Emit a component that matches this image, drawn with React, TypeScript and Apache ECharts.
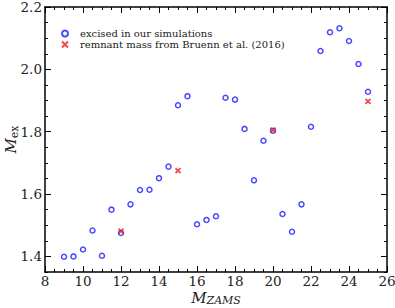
import React, { useEffect, useRef } from "react";
import * as echarts from "echarts";

// Data
const massBlue = [9, 9.5, 10, 10.5, 11, 11.5, 12, 12.5, 13, 13.5, 14, 14.5, 15, 15.5, 16, 16.5, 17, 17.5, 18, 18.5, 19, 19.5, 20, 20.5, 21, 21.5, 22, 22.5, 23, 23.5, 24, 24.5, 25];
const mexBlue = [1.399, 1.4, 1.422, 1.483, 1.402, 1.55, 1.475, 1.567, 1.613, 1.614, 1.651, 1.688, 1.885, 1.914, 1.503, 1.517, 1.529, 1.909, 1.903, 1.809, 1.644, 1.771, 1.803, 1.536, 1.479, 1.567, 1.816, 2.059, 2.119, 2.132, 2.091, 2.017, 1.928];
const massRed = [12, 15, 20, 25];
const mexRed = [1.481, 1.675, 1.805, 1.897];
const seriesNames = ["excised in our simulations", "remnant mass from Bruenn et al. (2016)"];

const xMin = 8;
const xMax = 26;
const xStep = 2;
const yMin = 1.35;
const yMax = 2.2;
const yMajorTicks = [1.4, 1.6, 1.8, 2.0, 2.2];
const yMinorTicks = [1.35, 1.4, 1.45, 1.5, 1.55, 1.6, 1.65, 1.7, 1.75, 1.8, 1.85, 1.9, 1.95, 2.0, 2.05, 2.1, 2.15, 2.2];

const FONT = "'DejaVu Serif', 'Liberation Serif', serif";
const BLUE = "#1a1aff";
const RED = "#ee1c1c";
const TXT = "#222";

export default function App() {
  const ref = useRef<HTMLDivElement>(null);
  useEffect(() => {
    if (!ref.current) return;
    const chart = echarts.init(ref.current, null, { renderer: "svg" });
    const axisLine = { show: true, lineStyle: { color: "#000", width: 1.5 } };
    const xCommon = (pos: "bottom" | "top", labels: boolean) => ({
      type: "value" as const,
      position: pos,
      min: xMin,
      max: xMax,
      interval: xStep,
      axisLine,
      axisTick: { show: true, inside: true, length: 6, lineStyle: { color: "#000", width: 1 } },
      minorTick: { show: true, splitNumber: 4, length: 3, lineStyle: { color: "#000", width: 1 } },
      splitLine: { show: false },
      minorSplitLine: { show: false },
      axisLabel: { show: labels, margin: 3, fontSize: 13.5, lineHeight: 12, color: TXT, fontFamily: FONT },
    });
    const yAxisDef = (pos: "left" | "right", ticks: number[], len: number, labels: boolean, line: boolean) => ({
      type: "value" as const,
      position: pos,
      min: yMin,
      max: yMax,
      axisLine: line ? axisLine : { show: false },
      axisTick: { show: true, inside: true, length: len, customValues: ticks, lineStyle: { color: "#000", width: 1 } },
      splitLine: { show: false },
      axisLabel: labels
        ? { show: true, customValues: yMajorTicks, margin: 3, fontSize: 13.5, lineHeight: 12, color: TXT, fontFamily: FONT, formatter: (v: number) => v.toFixed(1) }
        : { show: false },
    });
    chart.setOption({
      animation: false,
      backgroundColor: "#fff",
      grid: { left: 45, top: 7, right: 8, bottom: 36, containLabel: false, outerBoundsMode: "none" },
      legend: {
        left: 61,
        top: 28,
        orient: "vertical",
        padding: 0,
        itemWidth: 6,
        itemHeight: 6,
        itemGap: 0,
        textStyle: { fontFamily: FONT, fontSize: 10, color: TXT, lineHeight: 11, padding: [0, 0, 0, 7] },
        data: seriesNames,
      },
      xAxis: [
        {
          ...xCommon("bottom", true),
          name: "{m|M}{s|ZAMS}",
          nameLocation: "middle",
          nameGap: 18,
          nameMoveOverlap: false,
          nameTextStyle: {
            rich: {
              m: { fontFamily: FONT, fontStyle: "italic", fontSize: 15, color: TXT, lineHeight: 15 },
              s: { fontFamily: FONT, fontStyle: "italic", fontSize: 11, color: TXT, lineHeight: 11, padding: [6, 0, 0, 0] },
            },
          },
        },
        xCommon("top", false),
      ],
      yAxis: [
        {
          ...yAxisDef("left", yMajorTicks, 6, true, true),
          name: "{m|M}{s|ex}",
          nameLocation: "middle",
          nameGap: 26,
          nameMoveOverlap: false,
          nameTextStyle: {
            rich: {
              m: { fontFamily: FONT, fontStyle: "italic", fontSize: 15, color: TXT, lineHeight: 16 },
              s: { fontFamily: FONT, fontSize: 11, color: TXT, lineHeight: 11, padding: [7, 0, 0, 0] },
            },
          },
        },
        yAxisDef("left", yMinorTicks, 3, false, false),
        yAxisDef("right", yMajorTicks, 6, false, true),
        yAxisDef("right", yMinorTicks, 3, false, false),
      ],
      series: [
        {
          name: seriesNames[0],
          type: "scatter",
          symbol: "circle",
          symbolSize: 5,
          itemStyle: { color: "rgba(255,255,255,0)", borderColor: BLUE, borderWidth: 1.5 },
          data: massBlue.map((m, i) => [m, mexBlue[i]]),
          z: 2,
        },
        {
          name: seriesNames[1],
          type: "scatter",
          symbol: "path://M0,0L10,10M10,0L0,10",
          symbolSize: 5,
          itemStyle: { color: "rgba(255,255,255,0)", borderColor: RED, borderWidth: 1.8 },
          data: massRed.map((m, i) => [m, mexRed[i]]),
          z: 3,
        },
      ],
    });
    return () => chart.dispose();
  }, []);
  return <div ref={ref} style={{ position: "fixed", left: 0, top: 0, width: 395, height: 308 }} />;
}
